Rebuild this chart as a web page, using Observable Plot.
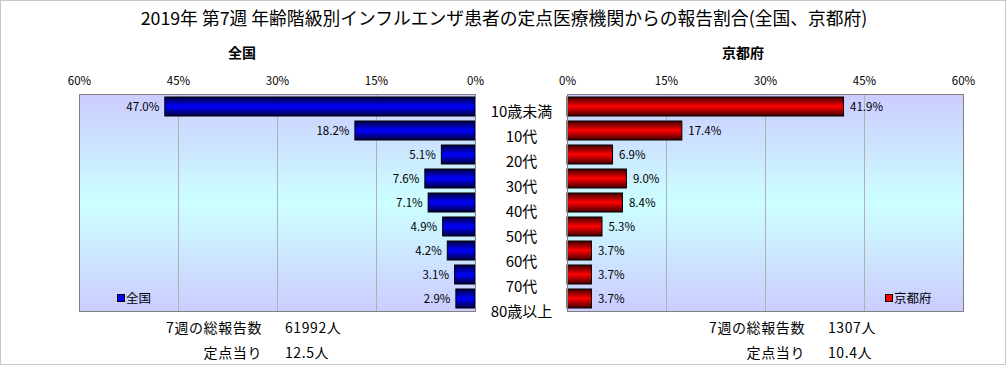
<!DOCTYPE html>
<html><head><meta charset="utf-8">
<script src="https://cdn.jsdelivr.net/npm/d3@7"></script>
<script src="https://cdn.jsdelivr.net/npm/@observablehq/plot@0.6"></script>
<style>
body{margin:0;background:#fff;}
#c{position:relative;width:1006px;height:365px;overflow:hidden;font-family:"Noto Sans CJK JP",sans-serif;background:#fff;}
.abs{position:absolute;white-space:nowrap;line-height:1;}
#c svg{position:absolute;top:0;overflow:visible;}
.sq{display:inline-block;width:6px;height:6px;border:1px solid #000;margin-right:1px;vertical-align:1px;}
</style></head><body><div id="c"></div>
<script>
const categories = ["10歳未満","10代","20代","30代","40代","50代","60代","70代","80歳以上"];
const zenkoku = [47.0, 18.2, 5.1, 7.6, 7.1, 4.9, 4.2, 3.1, 2.9];
const kyoto = [41.9, 17.4, 6.9, 9.0, 8.4, 5.3, 3.7, 3.7, 3.7];
const xTicks = [0, 15, 30, 45, 60];
const panelNames = ["全国", "京都府"];
const totalLabel = "7週の総報告数";
const perLabel = "定点当り";
const totals = ["61992人", "1307人"];
const perPoint = ["12.5人", "10.4人"];
const title = "2019年 第7週 年齢階級別インフルエンザ患者の定点医療機関からの報告割合(全国、京都府)";

const FONT = '"Noto Sans CJK JP", sans-serif';
const c = document.getElementById("c");

function defs(id, dark, bright) {
  return () => {
    const d = d3.create("svg:defs");
    const g = d.append("linearGradient").attr("id", "bar" + id).attr("x1", 0).attr("y1", 0).attr("x2", 0).attr("y2", 1);
    g.append("stop").attr("offset", "0%").attr("stop-color", dark);
    g.append("stop").attr("offset", "50%").attr("stop-color", bright);
    g.append("stop").attr("offset", "100%").attr("stop-color", dark);
    const b = d.append("linearGradient").attr("id", "bg" + id).attr("x1", 0).attr("y1", 0).attr("x2", 0).attr("y2", 1);
    b.append("stop").attr("offset", "0%").attr("stop-color", "#ccccff");
    b.append("stop").attr("offset", "50%").attr("stop-color", "#ccffff");
    b.append("stop").attr("offset", "100%").attr("stop-color", "#ccccff");
    return d.node();
  };
}

function panel(values, left) {
  const data = categories.map((cat, i) => ({cat, v: values[i]}));
  const id = left ? "L" : "R";
  return Plot.plot({
    width: left ? 500 : 506,
    height: 365,
    marginLeft: left ? 79 : 67,
    marginRight: left ? 25 : 43,
    marginTop: 94,
    marginBottom: 54,
    style: {fontSize: "11.5px", fontFamily: FONT, background: "transparent", color: "#000"},
    x: {domain: left ? [60, 0] : [0, 60], ticks: xTicks, tickFormat: d => d + "%", axis: "top", tickSize: 0, tickPadding: 10, label: null},
    y: {domain: categories, axis: null, paddingInner: 0.2, paddingOuter: 0.1},
    marks: [
      defs(id, left ? "#000040" : "#400000", left ? "#0000ff" : "#ff0000"),
      Plot.frame({fill: `url(#bg${id})`}),
      Plot.ruleX(xTicks.slice(1, -1), {stroke: "#b0b0b0", strokeWidth: 1}),
      Plot.barX(data, {x: "v", y: "cat", fill: `url(#bar${id})`, stroke: "#000", strokeWidth: 1}),
      Plot.text(data, {x: "v", y: "cat", text: d => d.v.toFixed(1) + "%", textAnchor: left ? "end" : "start", dx: left ? -6 : 6, fill: "#000"}),
      Plot.frame({stroke: "#808080"})
    ]
  });
}

const pl = panel(zenkoku, true); pl.style.left = "0px"; c.appendChild(pl);
const pr = panel(kyoto, false); pr.style.left = "500px"; c.appendChild(pr);

const lab = Plot.plot({
  width: 92, height: 365, margin: 0,
  style: {fontSize: "15px", fontFamily: FONT, background: "transparent", color: "#000"},
  x: {axis: null, domain: [0, 1]},
  y: {type: "point", domain: categories, range: [110, 313], padding: 0, axis: null},
  marks: [Plot.text(categories, {y: d => d, frameAnchor: "middle", text: d => d, fill: "#000"})]
});
lab.style.left = "475px"; c.appendChild(lab);

function addText(txt, x, y, size, anchor, weight, ls) {
  const e = document.createElement("div");
  e.className = "abs";
  e.textContent = txt;
  e.style.fontSize = size + "px";
  if (weight) e.style.fontWeight = weight;
  if (ls) e.style.letterSpacing = ls + "px";
  e.style.top = (y - size / 2) + "px";
  const tx = anchor === "middle" ? "-50%" : anchor === "end" ? "-100%" : "0";
  e.style.left = x + "px";
  e.style.transform = `translateX(${tx})`;
  c.appendChild(e);
  return e;
}
addText(title, 504, 18, 17.8, "middle");
addText(panelNames[0], 242, 52, 14, "middle", "bold");
addText(panelNames[1], 743, 52, 14, "middle", "bold");
const sx = [262, 805];
for (let i = 0; i < 2; i++) {
  addText(totalLabel, sx[i], 327, 14, "end", null, 0.6);
  addText(totals[i], sx[i] + 23, 327, 14, "start", null, 0.6);
  addText(perLabel, sx[i], 352, 14, "end", null, 0.6);
  addText(perPoint[i], sx[i] + 23, 352, 14, "start", null, 0.6);
}
function legend(name, color, x, y) {
  const e = addText("", x, y, 12.5, "start");
  const s = document.createElement("span"); s.className = "sq"; s.style.background = color;
  e.appendChild(s); e.appendChild(document.createTextNode(name));
}
legend(panelNames[0], "#0000ff", 117, 298);
legend(panelNames[1], "#ff0000", 885, 298);

const border = document.createElement("div");
border.className = "abs";
border.style.cssText = "left:0;top:0;width:1006px;height:365px;box-sizing:border-box;border:1px solid #c8c8c8;pointer-events:none;";
c.appendChild(border);
</script>
</body></html>
